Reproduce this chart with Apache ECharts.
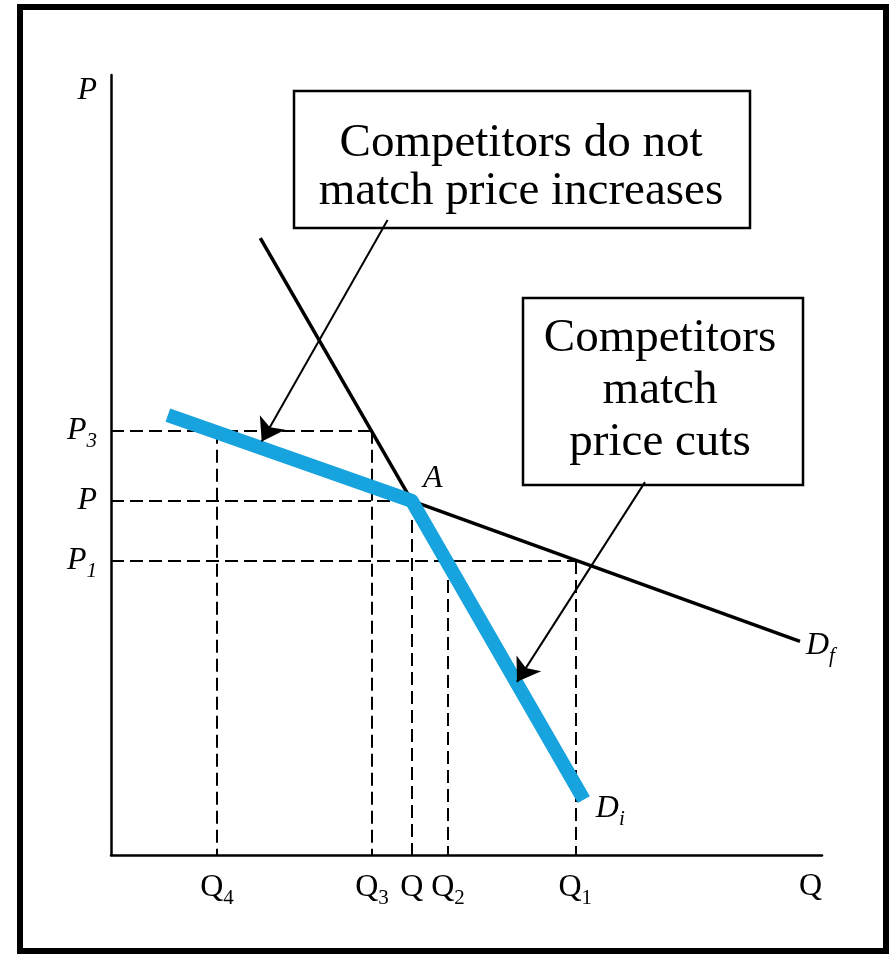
<!DOCTYPE html>
<html><head><meta charset="utf-8">
<script src="https://cdn.jsdelivr.net/npm/echarts@6/dist/echarts.min.js"></script>
<style>html,body{margin:0;padding:0;background:#fff}#c{width:889px;height:954px}</style>
</head><body><div id="c"></div><script>
// ---- data ----
const qTicks = [14.9, 36.7, 42.3, 47.4, 65.3];
const qSubs = ['4', '3', '', '2', '1'];
const pTicks = [54.4, 45.4, 37.7];
const pSubs = ['3', '', '1'];
const kinkPoint = [42.3, 45.4];
const flatDemand = [[42.3, 45.4], [96.9, 27.4]];      // D_f
const steepUpper = [[21.0, 79.1], [42.3, 45.4]];
const kinkedDemand = [[8.0, 56.4], [42.3, 45.4], [66.5, 7.1]]; // D_i
const arrowNotMatch = [[38.9, 81.4], [21.2, 53.0]];
const arrowMatch = [[75.1, 47.8], [57.1, 22.2]];
const boxNotMatch = ['Competitors do not', 'match price increases'];
const boxMatch = ['Competitors', 'match', 'price cuts'];

const SERIF = '"Liberation Serif", "DejaVu Serif", serif';
const BLUE = '#17a3de';

// dashed guide lines built from the tick values
const [Q4, Q3, Q0, Q2, Q1] = qTicks;
const [P3, P0, P1] = pTicks;
const guides = [
  [[0, P3], [Q3, P3]], [[0, P0], [Q0, P0]], [[0, P1], [Q1, P1]],
  [[Q4, P3], [Q4, 0]], [[Q3, P3], [Q3, 0]], [[Q0, P0], [Q0, 0]],
  [[Q2, P1], [Q2, 0]], [[Q1, P1], [Q1, 0]]
];

const subRich = (italic) => ({
  m: { fontFamily: SERIF, fontSize: 32, fontStyle: italic ? 'italic' : 'normal', color: '#000', opacity: 1 },
  s: { fontFamily: SERIF, fontSize: 21, fontStyle: italic ? 'italic' : 'normal', color: '#000', opacity: 1, padding: [22, 0, 0, 0] }
});
const subFmt = (main, sub) => '{m|' + main + '}{s|' + (sub === '' ? '\u200b' : sub) + '}';

const chart = echarts.init(document.getElementById('c'), null, { renderer: 'canvas' });

function boxTexts(lines, cx, y0, lh) {
  return lines.map((t, i) => ({
    type: 'text', z: 11,
    style: { text: t, x: cx, y: y0 + i * lh, align: 'center', verticalAlign: 'middle',
      font: '47px ' + SERIF, fill: '#000' }
  }));
}

chart.setOption({
  animation: false,
  backgroundColor: '#fff',
  grid: { left: 111, right: 67, top: 75, bottom: 99 },
  xAxis: {
    type: 'value', min: 0, max: 100,
    name: 'Q', nameLocation: 'end', nameGap: 0,
    nameTextStyle: { fontFamily: SERIF, fontSize: 32, color: '#000', align: 'right', verticalAlign: 'top', padding: [16, 0, 0, 0] },
    axisLine: { show: true, onZero: false, lineStyle: { color: '#000', width: 2.5 } },
    axisTick: { show: false },
    splitLine: { show: false },
    axisLabel: {
      customValues: qTicks, margin: 11,
      formatter: (v) => { const i = qTicks.indexOf(v); return subFmt('Q', i >= 0 ? qSubs[i] : ''); },
      rich: subRich(false)
    }
  },
  yAxis: {
    type: 'value', min: 0, max: 100,
    name: 'P', nameLocation: 'end', nameGap: 0,
    nameTextStyle: { fontFamily: SERIF, fontSize: 32, fontStyle: 'italic', color: '#000', align: 'right', verticalAlign: 'top', padding: [0, 14, 0, 0] },
    axisLine: { show: true, onZero: false, lineStyle: { color: '#000', width: 2.5 } },
    axisTick: { show: false },
    splitLine: { show: false },
    axisLabel: {
      customValues: pTicks, margin: 14,
      formatter: (v) => { const i = pTicks.indexOf(v); return subFmt('P', i >= 0 ? pSubs[i] : ''); },
      rich: subRich(true)
    }
  },
  graphic: [
    { type: 'rect', z: 1, shape: { x: 20, y: 7, width: 866, height: 944 },
      style: { fill: 'none', stroke: '#000', lineWidth: 6 } },
    { type: 'rect', z: 10, shape: { x: 294, y: 91, width: 456, height: 137 },
      style: { fill: '#fff', stroke: '#000', lineWidth: 2.5 } },
    { type: 'rect', z: 10, shape: { x: 523, y: 298, width: 280, height: 187 },
      style: { fill: '#fff', stroke: '#000', lineWidth: 2.5 } },
    ...boxTexts(boxNotMatch, 521, 144, 48),
    ...boxTexts(boxMatch, 660, 339, 52)
  ],
  series: [
    {
      type: 'lines', coordinateSystem: 'cartesian2d', z: 2, silent: true,
      lineStyle: { color: '#000', width: 2, type: [13, 6], opacity: 1 },
      data: guides.map(c => ({ coords: c }))
    },
    {
      type: 'line', z: 3, silent: true, symbol: 'none',
      lineStyle: { color: '#000', width: 3.5 }, data: steepUpper
    },
    {
      type: 'line', z: 3, silent: true, symbol: 'none',
      lineStyle: { color: '#000', width: 3.5 }, data: flatDemand
    },
    {
      type: 'line', z: 4, silent: true, symbol: 'none',
      lineStyle: { color: BLUE, width: 14, join: 'round', cap: 'butt' }, data: kinkedDemand
    },
    {
      type: 'scatter', z: 5, silent: true, symbolSize: 0,
      itemStyle: { color: '#000' },
      label: { show: true, rich: subRich(true), color: '#000' },
      data: [
        { value: kinkPoint, label: { position: 'inside', offset: [21, -22], formatter: '{m|A}' } },
        { value: flatDemand[1], label: { position: 'right', distance: 6, offset: [0, 4], formatter: subFmt('D', 'f') } },
        { value: kinkedDemand[2], label: { position: 'right', distance: 12, offset: [0, 9], formatter: subFmt('D', 'i') } }
      ]
    },
    {
      type: 'lines', coordinateSystem: 'cartesian2d', z: 20, silent: true,
      symbol: ['none', 'arrow'], symbolSize: 22,
      lineStyle: { color: '#000', width: 2, opacity: 1 },
      data: [{ coords: arrowNotMatch }, { coords: arrowMatch }]
    }
  ]
});
</script></body></html>
